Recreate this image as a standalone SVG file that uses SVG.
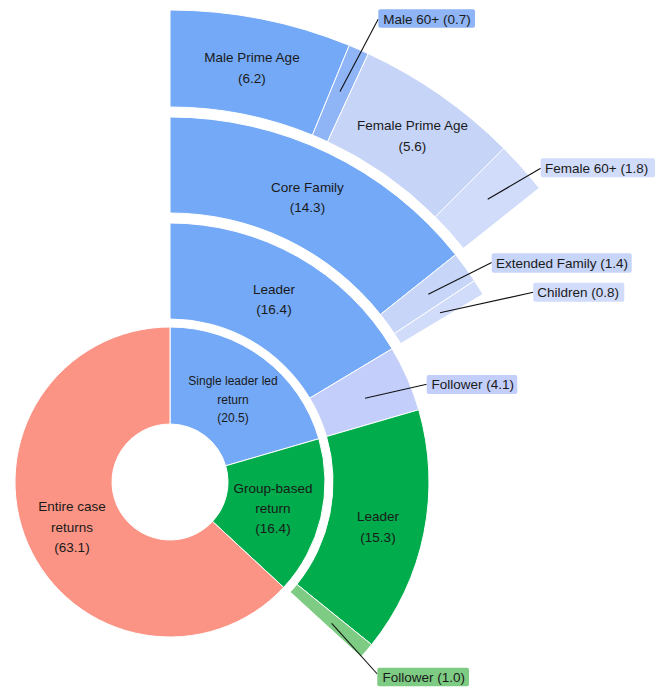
<svg xmlns="http://www.w3.org/2000/svg" width="664" height="689" viewBox="0 0 664 689">
<style>
.seg{stroke:#ffffff;stroke-width:1;stroke-linejoin:round}
.lbl{font-family:"Liberation Sans",Arial,sans-serif;font-size:13.5px;fill:#1a1a1a;text-anchor:middle}
.sm{font-size:12px}
.co{font-family:"Liberation Sans",Arial,sans-serif;font-size:13.5px;fill:#1a1a1a}
.lead{stroke:#111111;stroke-width:1.1;fill:none}
.blue{fill:#74a9f7}
.lb{fill:#c6d4f8}
</style>
<rect width="664" height="689" fill="#ffffff"/>
<g id="ring1">
<g id="single-leader">
<path class="seg blue" d="M170,327 A155,155 0 0 1 318.85,438.76 L225.70,465.82 A58,58 0 0 0 170,424 Z"/>
<text class="lbl sm" x="233" y="385">Single leader led</text>
<text class="lbl sm" x="233" y="403.5">return</text>
<text class="lbl sm" x="233" y="422">(20.5)</text>
</g>
<g id="group-based">
<path class="seg" fill="#00ac4b" d="M318.85,438.76 A155,155 0 0 1 283.65,587.39 L212.53,521.44 A58,58 0 0 0 225.70,465.82 Z"/>
<text class="lbl" x="273" y="493">Group-based</text>
<text class="lbl" x="273" y="513">return</text>
<text class="lbl" x="273" y="533">(16.4)</text>
</g>
<g id="entire-case">
<path class="seg" fill="#fb9484" d="M283.65,587.39 A155,155 0 1 1 170,327 L170,424 A58,58 0 1 0 212.53,521.44 Z"/>
<text class="lbl" x="72" y="511">Entire case</text>
<text class="lbl" x="72" y="531.5">returns</text>
<text class="lbl" x="72" y="552">(63.1)</text>
</g>
</g>
<g id="ring2">
<g id="leader-single">
<path class="seg blue" d="M170,223 A259,259 0 0 1 392.10,348.76 L309.78,398.15 A163,163 0 0 0 170,319 Z"/>
<text class="lbl" x="274" y="294">Leader</text>
<text class="lbl" x="274" y="314">(16.4)</text>
</g>
<g id="follower-single">
<path class="seg" fill="#c3cffa" d="M392.10,348.76 A259,259 0 0 1 418.72,409.74 L326.53,436.53 A163,163 0 0 0 309.78,398.15 Z"/>
</g>
<g id="leader-group">
<path class="seg" fill="#00ac4b" d="M418.72,409.74 A259,259 0 0 1 371.62,644.57 L296.89,584.31 A163,163 0 0 0 326.53,436.53 Z"/>
<text class="lbl" x="378" y="520.5">Leader</text>
<text class="lbl" x="378" y="541.5">(15.3)</text>
</g>
<g id="follower-group">
<path class="seg" fill="#7ecb83" d="M371.62,644.57 A259,259 0 0 1 361.02,656.91 L290.21,592.08 A163,163 0 0 0 296.89,584.31 Z"/>
</g>
</g>
<g id="ring3">
<g id="core-family">
<path class="seg blue" d="M170,117 A365,365 0 0 1 455.58,254.68 L380.47,314.47 A269,269 0 0 0 170,213 Z"/>
<text class="lbl" x="307.5" y="191.5">Core Family</text>
<text class="lbl" x="307.5" y="211.5">(14.3)</text>
</g>
<g id="extended-family">
<path class="seg" fill="#c7d5f8" d="M455.58,254.68 A365,365 0 0 1 474.44,280.65 L394.37,333.61 A269,269 0 0 0 380.47,314.47 Z"/>
</g>
<g id="children">
<path class="seg" fill="#d1dcfa" d="M474.44,280.65 A365,365 0 0 1 483.00,294.23 L400.68,343.62 A269,269 0 0 0 394.37,333.61 Z"/>
</g>
</g>
<g id="ring4">
<g id="male-prime">
<path class="seg blue" d="M170,10 A472,472 0 0 1 349.26,45.37 L312.42,135.10 A375,375 0 0 0 170,107 Z"/>
<text class="lbl" x="252" y="62">Male Prime Age</text>
<text class="lbl" x="252" y="82.5">(6.2)</text>
</g>
<g id="male-60">
<path class="seg" fill="#8fb5f6" d="M349.26,45.37 A472,472 0 0 1 368.28,53.67 L327.53,141.69 A375,375 0 0 0 312.42,135.10 Z"/>
</g>
<g id="female-prime">
<path class="seg lb" d="M368.28,53.67 A472,472 0 0 1 503.76,148.25 L435.17,216.84 A375,375 0 0 0 327.53,141.69 Z"/>
<text class="lbl" x="412.5" y="130">Female Prime Age</text>
<text class="lbl" x="412.5" y="150.5">(5.6)</text>
</g>
<g id="female-60">
<path class="seg" fill="#d0dcfa" d="M503.76,148.25 A472,472 0 0 1 539.29,188.04 L463.40,248.45 A375,375 0 0 0 435.17,216.84 Z"/>
</g>
</g>
<g id="connectors">
<line class="lead" x1="340" y1="91.5" x2="378.3" y2="19"/>
<line class="lead" x1="487.7" y1="199.3" x2="540.7" y2="168.3"/>
<line class="lead" x1="428.3" y1="294.3" x2="491.7" y2="262.5"/>
<line class="lead" x1="440" y1="312.7" x2="533.3" y2="292.3"/>
<line class="lead" x1="365" y1="398.3" x2="426.7" y2="384.3"/>
<line class="lead" x1="331.7" y1="623.3" x2="377.3" y2="674"/>
</g>
<g id="callout-male-60">
<rect x="378.3" y="9.3" width="96.7" height="18.4" rx="2" fill="#8fb5f6"/>
<text class="co" x="383.3" y="23.8">Male 60+ (0.7)</text>
</g>
<g id="callout-female-60">
<rect x="540.7" y="158.3" width="114.3" height="19" rx="2" fill="#d0dcfa"/>
<text class="co" x="545" y="172.7">Female 60+ (1.8)</text>
</g>
<g id="callout-extended">
<rect x="491.7" y="253.3" width="140" height="19.4" rx="2" fill="#c7d5f8"/>
<text class="co" x="496" y="267.7">Extended Family (1.4)</text>
</g>
<g id="callout-children">
<rect x="533.3" y="282.7" width="91" height="19" rx="2" fill="#d1dcfa"/>
<text class="co" x="537.3" y="297.2">Children (0.8)</text>
</g>
<g id="callout-follower-single">
<rect x="426.7" y="375" width="90.6" height="19" rx="2" fill="#c3cffa"/>
<text class="co" x="431.5" y="389.3">Follower (4.1)</text>
</g>
<g id="callout-follower-group">
<rect x="377.3" y="667.7" width="91.7" height="18.6" rx="2" fill="#7ecb83"/>
<text class="co" x="382.5" y="681.7">Follower (1.0)</text>
</g>
</svg>
